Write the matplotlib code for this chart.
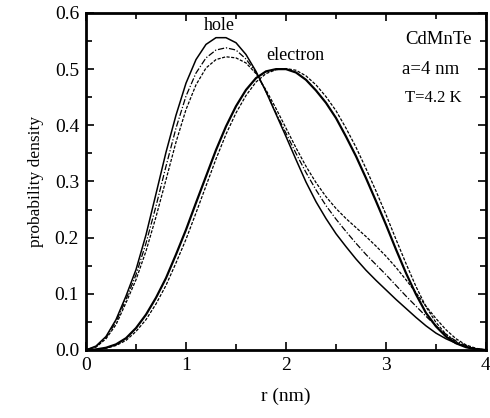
import matplotlib

matplotlib.use("Agg")
import matplotlib.pyplot as plt
from matplotlib.ticker import MultipleLocator

# radial grid (nm) on which all curves were read
r_nm = [0.0, 0.1, 0.2, 0.3, 0.4, 0.5, 0.6, 0.7, 0.8, 0.9,
        1.0, 1.1, 1.2, 1.3, 1.4, 1.5, 1.6, 1.7, 1.8, 1.9,
        2.0, 2.1, 2.2, 2.3, 2.4, 2.5, 2.6, 2.7, 2.8, 2.9,
        3.0, 3.1, 3.2, 3.3, 3.4, 3.5, 3.6, 3.7, 3.8, 3.9, 4.0]

hole_solid = [0, 0.007, 0.024, 0.054, 0.096, 0.143, 0.205, 0.278, 0.352, 0.418,
              0.475, 0.517, 0.544, 0.556, 0.556, 0.547, 0.526, 0.496, 0.46, 0.42,
              0.38, 0.339, 0.299, 0.264, 0.234, 0.207, 0.184, 0.162, 0.142, 0.124,
              0.107, 0.09, 0.074, 0.058, 0.043, 0.03, 0.02, 0.012, 0.006, 0.002, 0]

hole_dashdot = [0, 0.006, 0.022, 0.05, 0.09, 0.134, 0.19, 0.256, 0.327, 0.395,
                0.452, 0.493, 0.52, 0.534, 0.538, 0.534, 0.518, 0.494, 0.46, 0.422,
                0.386, 0.35, 0.316, 0.285, 0.257, 0.233, 0.211, 0.19, 0.17, 0.152,
                0.134, 0.115, 0.096, 0.078, 0.06, 0.043, 0.028, 0.016, 0.008, 0.002, 0]

hole_dashed = [0, 0.005, 0.02, 0.045, 0.084, 0.125, 0.176, 0.237, 0.303, 0.37,
               0.428, 0.472, 0.502, 0.517, 0.522, 0.52, 0.511, 0.492, 0.463, 0.43,
               0.395, 0.36, 0.327, 0.298, 0.273, 0.252, 0.234, 0.218, 0.202, 0.185,
               0.167, 0.147, 0.125, 0.102, 0.078, 0.056, 0.036, 0.02, 0.009, 0.003, 0]

elec_solid = [0, 0.001, 0.004, 0.01, 0.021, 0.039, 0.063, 0.093, 0.128, 0.17,
              0.214, 0.262, 0.309, 0.356, 0.398, 0.434, 0.463, 0.484, 0.496, 0.5,
              0.5, 0.494, 0.481, 0.462, 0.44, 0.413, 0.38, 0.345, 0.306, 0.265,
              0.223, 0.179, 0.137, 0.099, 0.066, 0.042, 0.024, 0.012, 0.005, 0.001, 0]

elec_dashed = [0, 0.001, 0.003, 0.008, 0.017, 0.033, 0.054, 0.082, 0.115, 0.155,
               0.197, 0.244, 0.292, 0.34, 0.384, 0.422, 0.453, 0.477, 0.492, 0.499,
               0.501, 0.498, 0.488, 0.472, 0.451, 0.426, 0.395, 0.361, 0.323, 0.283,
               0.241, 0.197, 0.154, 0.113, 0.077, 0.049, 0.028, 0.014, 0.006, 0.002, 0]

plt.rcParams["font.family"] = ["Liberation Serif", "DejaVu Serif"]

fig = plt.figure(figsize=(4.9, 4.18), dpi=100)
ax = fig.add_axes([0.1755, 0.1627, 0.8163, 0.8063])

ax.plot(r_nm, hole_solid, color="black", linewidth=1.1)
ax.plot(r_nm, hole_dashdot, color="black", linewidth=0.9, dashes=(5, 1.5, 1, 1.5))
ax.plot(r_nm, hole_dashed, color="black", linewidth=0.9, dashes=(2.5, 1.2))

ax.plot(r_nm, elec_solid, color="black", linewidth=1.6)
ax.plot(r_nm, elec_dashed, color="black", linewidth=0.9, dashes=(2.5, 1.2))

ax.text(1.33, 0.578, "hole", fontsize=13, ha="center", va="center")
ax.text(2.09, 0.525, "electron", fontsize=13, ha="center", va="center")
ax.text(3.53, 0.553, "CdMnTe", fontsize=13.5, ha="center", va="center")
ax.text(3.45, 0.499, "a=4 nm", fontsize=13.5, ha="center", va="center")
ax.text(3.47, 0.448, "T=4.2 K", fontsize=12, ha="center", va="center")

ax.set_xlim(0, 4)
ax.set_ylim(0, 0.6)
ax.xaxis.set_major_locator(MultipleLocator(1))
ax.xaxis.set_minor_locator(MultipleLocator(0.5))
ax.yaxis.set_major_locator(MultipleLocator(0.1))
ax.yaxis.set_minor_locator(MultipleLocator(0.05))
ax.set_yticklabels([f"{v:.1f}" for v in ax.get_yticks()])
ax.tick_params(which="both", direction="in", top=True, right=True, labelsize=14, width=1.2)
ax.tick_params(which="major", length=6, pad=5)
ax.tick_params(which="minor", length=4)
for spine in ax.spines.values():
    spine.set_linewidth(2)

ax.set_xlabel("r (nm)", fontsize=14, labelpad=10)
ax.set_ylabel("probability density", fontsize=12.5, labelpad=8)

fig.savefig("out.png", dpi=100)
